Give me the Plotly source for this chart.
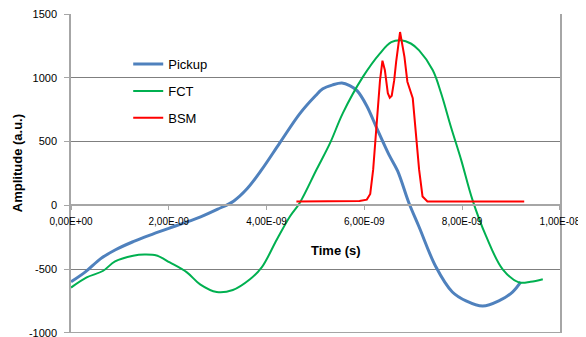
import plotly.graph_objects as go

# Time in ns
pickup_t = [0, 0.3, 0.6, 0.9, 1.27, 1.6, 2.0, 2.3, 2.65, 3.0, 3.33, 3.6, 3.9, 4.27, 4.68, 5.0,
            5.15, 5.35, 5.54, 5.7, 5.85, 6.05, 6.26, 6.5, 6.68, 6.91, 7.12, 7.46, 7.80, 8.08,
            8.42, 8.75, 9.03, 9.20]
pickup_v = [-600, -520, -420, -350, -285, -235, -180, -140, -90, -30, 35, 130, 280, 490, 720, 860,
            915, 945, 960, 940, 900, 780, 600, 400, 270, 20, -170, -480, -680, -750,
            -790, -750, -680, -600]

fct_t = [0, 0.32, 0.65, 0.9, 1.27, 1.5, 1.75, 2.02, 2.37, 2.64, 2.98, 3.31, 3.66, 3.90, 4.21,
         4.48, 4.68, 5.02, 5.30, 5.56, 5.97, 6.32, 6.55, 6.75, 6.95, 7.12, 7.40, 7.57, 7.77,
         7.98, 8.21, 8.49, 8.83, 9.16, 9.4, 9.65]
fct_v = [-645, -565, -515, -440, -395, -385, -393, -448, -526, -620, -680, -664, -580, -487, -268,
         -86, 21, 279, 490, 724, 1008, 1193, 1280, 1295, 1270, 1216, 1060, 880, 617,
         357, 45, -242, -502, -604, -600, -580]

bsm_t = [4.61, 5.0, 5.5, 5.9, 6.05, 6.12, 6.18, 6.25, 6.32, 6.37, 6.42, 6.48, 6.52, 6.56, 6.61,
         6.65, 6.73, 6.82, 6.88, 6.99, 7.06, 7.12, 7.19, 7.29, 8.0, 8.5, 9.27]
bsm_v = [30, 32, 30, 35, 45, 90, 280, 620, 980, 1135, 1060, 880, 845, 860, 980,
         1125, 1360, 1165, 970, 840, 570, 280, 70, 30, 30, 32, 30]

x_tickvals = [0, 2e-9, 4e-9, 6e-9, 8e-9, 1e-8]
x_ticktext = ["0,00E+00", "2,00E-09", "4,00E-09", "6,00E-09", "8,00E-09", "1,00E-08"]
y_tickvals = [-1000, -500, 0, 500, 1000, 1500]
y_ticktext = ["-1000", "-500", "0", "500", "1000", "1500"]

font_family = "Liberation Sans, Arial, sans-serif"

fig = go.Figure()
fig.add_trace(go.Scatter(x=[t * 1e-9 for t in pickup_t], y=pickup_v, name="Pickup",
                         mode="lines", line=dict(color="#4F81BD", width=3, shape="spline"),
                         legendgroup="a"))
fig.add_trace(go.Scatter(x=[t * 1e-9 for t in fct_t], y=fct_v, name="FCT",
                         mode="lines", line=dict(color="#00B050", width=2, shape="spline"),
                         legendgroup="b"))
fig.add_trace(go.Scatter(x=[t * 1e-9 for t in bsm_t], y=bsm_v, name="BSM",
                         mode="lines", line=dict(color="#FF0000", width=2),
                         legendgroup="c"))

# page body has an 8px margin, so the figure is drawn 8px in from the top-left
fig.update_layout(
    width=578, height=329,
    margin=dict(l=63, r=26, t=6, b=4),
    paper_bgcolor="white", plot_bgcolor="white",
    font=dict(family=font_family, size=11, color="#000000"),
    showlegend=True,
    legend=dict(x=0.117, y=0.89, xanchor="left", yanchor="top",
                font=dict(size=13, family=font_family), bgcolor="rgba(0,0,0,0)",
                tracegroupgap=7),
    xaxis=dict(range=[-0.001e-9, 10.002e-9], tickvals=x_tickvals, ticktext=x_ticktext,
               anchor="free", position=0.4, showline=True, linecolor="#a6a6a6", linewidth=1.5,
               ticks="outside", ticklen=4, tickcolor="#a6a6a6", showgrid=False, zeroline=False,
               ticklabelstandoff=3, tickfont=dict(size=10), ticklabeloverflow="allow",
               automargin=False),
    yaxis=dict(range=[-1001.5, 1501.5], tickvals=y_tickvals, ticktext=y_ticktext,
               showline=True, linecolor="#a6a6a6", linewidth=1.5, mirror=True,
               ticks="outside", ticklen=5, tickcolor="#a6a6a6",
               showgrid=True, gridcolor="#7f7f7f", gridwidth=1, zeroline=False,
               tickfont=dict(size=11), ticklabelstandoff=5, ticklabeloverflow="allow",
               automargin=False),
    shapes=[
        # bottom gridline (Plotly skips the grid line at the very edge of the plot)
        dict(type="line", xref="paper", x0=0, x1=1, yref="y", y0=y_tickvals[0], y1=y_tickvals[0],
             line=dict(color="#7f7f7f", width=1), layer="below"),
    ],
    annotations=[
        dict(text="<b>Time (s)</b>", xref="paper", yref="paper", x=0.542, y=0.26,
             xanchor="center", yanchor="middle",
             showarrow=False, font=dict(size=13, family=font_family)),
        dict(text="<b>Amplitude (a.u.)</b>", xref="paper", yref="paper", x=-0.108, y=0.533,
             xanchor="center", yanchor="middle",
             textangle=-90, showarrow=False, font=dict(size=13, family=font_family)),
    ],
)

fig.write_html("out.html")
